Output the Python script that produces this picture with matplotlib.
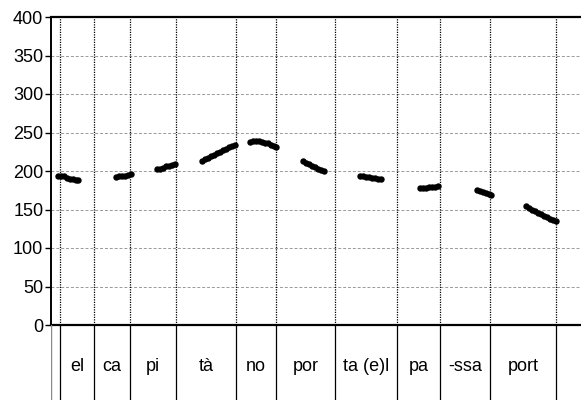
import numpy as np
import matplotlib.pyplot as plt

plt.rcParams['font.family'] = ['Liberation Sans', 'DejaVu Sans']

# syllable boundaries (s) and labels
bounds = [0.045, 0.215, 0.395, 0.625, 0.925, 1.125, 1.42, 1.73, 1.945, 2.195, 2.525]
syllables = ['el', 'ca', 'pi', 'tà', 'no', 'por', 'ta (e)l', 'pa', '-ssa', 'port']

# pitch track (time in s, f0 in Hz)
t1 = [0.035, 0.05, 0.065, 0.08, 0.095, 0.11, 0.125, 0.135]
f1 = [194, 194, 193, 191, 190, 189, 188, 188]
t2 = [0.325, 0.34, 0.355, 0.37, 0.385, 0.40]
f2 = [192, 193, 193, 194, 195, 196]
t3 = [0.53, 0.545, 0.56, 0.575, 0.59, 0.605, 0.62]
f3 = [202, 203, 204, 206, 207, 208, 209]
t4 = [0.755, 0.77, 0.785, 0.80, 0.815, 0.83, 0.845, 0.86, 0.875, 0.89, 0.905, 0.92]
f4 = [213, 215, 217, 219, 221, 223, 225, 227, 229, 231, 233, 234]
t5 = [0.995, 1.01, 1.025, 1.04, 1.055, 1.07, 1.085, 1.10, 1.115, 1.125]
f5 = [238, 239, 239, 239, 238, 237, 236, 234, 232, 231]
t6 = [1.26, 1.275, 1.29, 1.305, 1.32, 1.335, 1.35, 1.365]
f6 = [213, 211, 209, 207, 205, 203, 201, 200]
t7 = [1.545, 1.56, 1.575, 1.59, 1.605, 1.62, 1.635, 1.65]
f7 = [193, 193, 192, 192, 191, 191, 190, 189]
t8 = [1.845, 1.86, 1.875, 1.89, 1.905, 1.92, 1.935]
f8 = [178, 178, 178, 179, 179, 179, 180]
t9 = [2.13, 2.145, 2.16, 2.175, 2.19, 2.20]
f9 = [175, 174, 173, 172, 170, 169]
t10 = [2.375, 2.39, 2.405, 2.42, 2.435, 2.45, 2.465, 2.48, 2.495, 2.51, 2.525]
f10 = [154, 152, 150, 148, 146, 144, 142, 140, 138, 136, 135]

times = t1 + t2 + t3 + t4 + t5 + t6 + t7 + t8 + t9 + t10
f0 = f1 + f2 + f3 + f4 + f5 + f6 + f7 + f8 + f9 + f10

fig = plt.figure(figsize=(5.81, 4.0), dpi=100)
left = 51 / 581
width = 1 - left
ax = fig.add_axes([left, 75 / 400, width, 308 / 400])
ax2 = fig.add_axes([left, 0, width, 75 / 400], sharex=ax)

# pitch panel
ax.set_xlim(0, 2.65)
ax.set_ylim(0, 400)
ax.set_yticks(np.arange(0, 401, 50))
ax.tick_params(axis='y', length=4, width=1, pad=1.5, labelsize=13)
ax.tick_params(axis='x', bottom=False, labelbottom=False)
ax.grid(axis='y', color='#999999', linestyle=(0, (3, 2)), linewidth=0.7)
for b in bounds:
    ax.axvline(b, color='black', linestyle=(0, (1, 1)), linewidth=0.9)
ax.spines['right'].set_visible(False)
ax.spines['top'].set_linewidth(1.6)
ax.spines['bottom'].set_linewidth(1.6)
ax.spines['left'].set_linewidth(1.4)

ax.plot(times, f0, 'o', color='black', markersize=4.6, markeredgewidth=0)

# syllable label tier
ax2.set_ylim(0, 1)
ax2.axis('off')
ax2.axvline(0, color='#888888', linewidth=1)
for b in bounds:
    ax2.axvline(b, color='black', linewidth=0.9)
for i, s in enumerate(syllables):
    ax2.text((bounds[i] + bounds[i + 1]) / 2, 0.45, s, ha='center', va='center', fontsize=13)

fig.savefig('out.png', dpi=100)
